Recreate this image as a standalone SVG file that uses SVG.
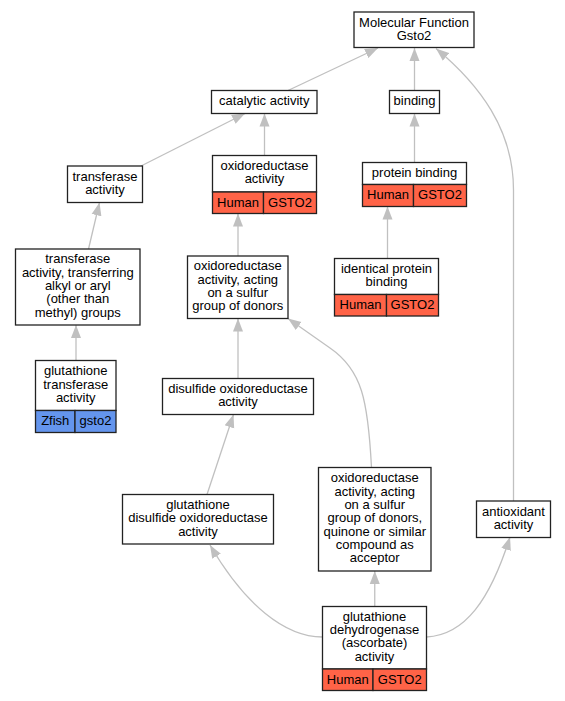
<svg xmlns="http://www.w3.org/2000/svg" width="565" height="701" viewBox="0 0 565 701">
<style>
.b{fill:#fff;stroke:#222;stroke-width:1.3}
.r{fill:#ff6347;stroke:#222;stroke-width:1.3}
.z{fill:#6495ed;stroke:#222;stroke-width:1.3}
text{font-family:"Liberation Sans",Arial,sans-serif;font-size:13px;fill:#000;text-anchor:middle}
.e{fill:none;stroke:#c0c0c0;stroke-width:1.3;marker-end:url(#ah)}
</style>
<defs>
<marker id="ah" markerUnits="userSpaceOnUse" markerWidth="14" markerHeight="11" refX="13" refY="5" orient="auto" viewBox="0 0 14 10">
<path d="M0,0 L13,5 L0,10 z" fill="#c0c0c0"/>
</marker>
</defs>
<rect width="565" height="701" fill="#fff"/>
<g id="edges">
<path class="e" d="M288,90.5 L378,48"/>
<path class="e" d="M414.5,90.5 L414.5,48"/>
<path class="e" d="M513.5,501 L513.5,190 C513.5,130 480,85 436,48.5"/>
<path class="e" d="M141,166 L245,113.5"/>
<path class="e" d="M264.5,155.5 L264.5,113.5"/>
<path class="e" d="M414.5,162.5 L414.5,113.5"/>
<path class="e" d="M88.5,249 L99.5,202.5"/>
<path class="e" d="M76,360.5 L76,325"/>
<path class="e" d="M238,256 L238,213.5"/>
<path class="e" d="M387.5,258.5 L387.5,206.5"/>
<path class="e" d="M238,378.5 L238,318.5"/>
<path class="e" d="M371.5,467.5 C368,400 362,370 330,348 L288,318.5"/>
<path class="e" d="M207,494.5 L233.5,414.5"/>
<path class="e" d="M322.5,637 C285,637 245,605 210,545"/>
<path class="e" d="M374.75,606.5 L374.75,571"/>
<path class="e" d="M426.5,637 C465,635 490,600 510,537"/>
</g>
<g id="mf">
<rect class="b" x="354" y="12" width="120" height="35.5"/>
<text x="414" y="26.6">Molecular Function</text>
<text x="414" y="39.9">Gsto2</text>
</g>
<g id="catalytic">
<rect class="b" x="211.5" y="90.5" width="105.5" height="23"/>
<text x="264.25" y="105">catalytic activity</text>
</g>
<g id="binding">
<rect class="b" x="389.5" y="90.5" width="50" height="23"/>
<text x="414.5" y="105">binding</text>
</g>
<g id="oxidoreductase">
<rect class="b" x="212.5" y="155.5" width="104" height="36.5"/>
<text x="264.5" y="170.1">oxidoreductase</text>
<text x="264.5" y="183.4">activity</text>
<rect class="r" x="212.5" y="192" width="51" height="21.5"/>
<rect class="r" x="263.5" y="192" width="53" height="21.5"/>
<text x="238" y="207">Human</text>
<text x="290" y="207">GSTO2</text>
</g>
<g id="protein-binding">
<rect class="b" x="362.5" y="162.5" width="104" height="22"/>
<text x="414.5" y="177">protein binding</text>
<rect class="r" x="362.5" y="184.5" width="51" height="22"/>
<rect class="r" x="413.5" y="184.5" width="53" height="22"/>
<text x="388" y="199">Human</text>
<text x="440" y="199">GSTO2</text>
</g>
<g id="transferase">
<rect class="b" x="67.5" y="166" width="75" height="36.5"/>
<text x="105" y="180.6">transferase</text>
<text x="105" y="193.9">activity</text>
</g>
<g id="transferring">
<rect class="b" x="15.5" y="249" width="124.5" height="76"/>
<text x="77.75" y="263.4">transferase</text>
<text x="77.75" y="276.7">activity, transferring</text>
<text x="77.75" y="290">alkyl or aryl</text>
<text x="77.75" y="303.3">(other than</text>
<text x="77.75" y="316.6">methyl) groups</text>
</g>
<g id="gst">
<rect class="b" x="35.5" y="360.5" width="80.5" height="50"/>
<text x="75.75" y="375.2">glutathione</text>
<text x="75.75" y="388.5">transferase</text>
<text x="75.75" y="401.8">activity</text>
<rect class="z" x="35.5" y="410.5" width="39.5" height="22"/>
<rect class="z" x="75" y="410.5" width="41" height="22"/>
<text x="55.25" y="425">Zfish</text>
<text x="95.5" y="425">gsto2</text>
</g>
<g id="sulfur">
<rect class="b" x="187.5" y="256" width="100.5" height="62.5"/>
<text x="237.75" y="270.3">oxidoreductase</text>
<text x="237.75" y="283.6">activity, acting</text>
<text x="237.75" y="296.9">on a sulfur</text>
<text x="237.75" y="310.2">group of donors</text>
</g>
<g id="identical">
<rect class="b" x="334.5" y="258.5" width="104" height="36"/>
<text x="386.5" y="272.9">identical protein</text>
<text x="386.5" y="286.2">binding</text>
<rect class="r" x="334.5" y="294.5" width="52" height="21.5"/>
<rect class="r" x="386.5" y="294.5" width="52" height="21.5"/>
<text x="360.5" y="309">Human</text>
<text x="412.5" y="309">GSTO2</text>
</g>
<g id="disulfide">
<rect class="b" x="162.5" y="378.5" width="151" height="36"/>
<text x="238" y="392.9">disulfide oxidoreductase</text>
<text x="238" y="406.2">activity</text>
</g>
<g id="gdo">
<rect class="b" x="122.5" y="494.5" width="151" height="49.5"/>
<text x="198" y="509">glutathione</text>
<text x="198" y="522.3">disulfide oxidoreductase</text>
<text x="198" y="535.6">activity</text>
</g>
<g id="quinone">
<rect class="b" x="318.5" y="467.5" width="112.5" height="103.5"/>
<text x="374.75" y="482.4">oxidoreductase</text>
<text x="374.75" y="495.7">activity, acting</text>
<text x="374.75" y="509">on a sulfur</text>
<text x="374.75" y="522.3">group of donors,</text>
<text x="374.75" y="535.6">quinone or similar</text>
<text x="374.75" y="548.9">compound as</text>
<text x="374.75" y="562.2">acceptor</text>
</g>
<g id="antioxidant">
<rect class="b" x="476.5" y="501" width="74" height="36.5"/>
<text x="513.5" y="515.6">antioxidant</text>
<text x="513.5" y="528.9">activity</text>
</g>
<g id="dehydrogenase">
<rect class="b" x="322.5" y="606.5" width="104" height="62.5"/>
<text x="374.5" y="620.8">glutathione</text>
<text x="374.5" y="634.1">dehydrogenase</text>
<text x="374.5" y="647.4">(ascorbate)</text>
<text x="374.5" y="660.7">activity</text>
<rect class="r" x="322.5" y="669" width="50.5" height="21.5"/>
<rect class="r" x="373" y="669" width="53.5" height="21.5"/>
<text x="347.75" y="683.5">Human</text>
<text x="399.75" y="683.5">GSTO2</text>
</g>
</svg>
